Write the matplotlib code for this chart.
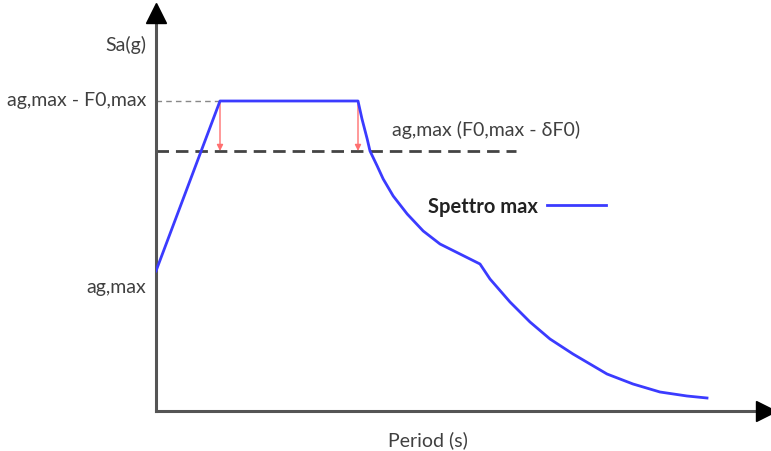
import numpy as np
import matplotlib.pyplot as plt

# Spettro di risposta elastico (schema): periodo T [s], accelerazione Sa [g]
T = [0.0, 0.16, 0.505, 0.515, 0.528, 0.535, 0.553, 0.568, 0.593, 0.628, 0.668,
     0.71, 0.76, 0.81, 0.835, 0.885, 0.935, 0.985, 1.0425, 1.1275, 1.1925,
     1.26, 1.3275, 1.3775]
Sa = [0.35, 0.775, 0.775, 0.73, 0.68, 0.65, 0.6125, 0.58, 0.5375, 0.4925, 0.45,
      0.4175, 0.3925, 0.3675, 0.33, 0.2725, 0.2225, 0.18, 0.1425, 0.0925, 0.0675,
      0.0475, 0.0375, 0.0325]

ag_max = 0.35          # ag,max
plateau = 0.775        # ag,max * F0,max
ridotto = 0.65         # ag,max (F0,max - dF0)
TB, TC = 0.16, 0.505
T_fine_ridotto = 0.9

x_max, y_max = 1.5375, 1.0175

plt.rcParams['font.family'] = ['Lato', 'DejaVu Sans']

fig = plt.figure(figsize=(7.71, 4.52), dpi=100)
ax = fig.add_axes([156 / 771, 40 / 452, 615 / 771, 407 / 452])
ax.set_xlim(0, x_max)
ax.set_ylim(0, y_max)
ax.axis('off')

# assi con frecce
asse = '#555555'
ax.plot([0, 0], [0, y_max - 0.03], color=asse, lw=2.2, clip_on=False, zorder=2)
ax.plot([0, x_max - 0.02], [0, 0], color=asse, lw=2.2, clip_on=False, zorder=2)
ax.plot(0, y_max - 0.0225, marker='^', markersize=15, color='black', clip_on=False, zorder=3)
ax.plot(x_max - 0.0125, 0, marker='>', markersize=15, color='black', clip_on=False, zorder=3)

# linee di riferimento
ax.plot([0, TB], [plateau, plateau], color='#888888', lw=1, ls=(0, (4, 3)), zorder=1)
ax.plot([0, T_fine_ridotto], [ridotto, ridotto], color='#444444', lw=2,
        ls=(0, (4.5, 2.5)), zorder=1)

# frecce di riduzione
for t in [TB, TC]:
    ax.annotate('', xy=(t, ridotto), xytext=(t, plateau),
                arrowprops=dict(arrowstyle='-|>', color='#ff7070', lw=1,
                                mutation_scale=9, shrinkA=0, shrinkB=0), zorder=4)

# spettro
ax.plot(T, Sa, color='#3b3bff', lw=2, label='Spettro max', zorder=5)

testo = '#404040'
fs = 14
fig.text(146 / 771, 1 - 45 / 452, 'Sa(g)', ha='right', va='center', fontsize=fs, color=testo)
fig.text(146 / 771, 1 - 101 / 452, 'ag,max - F0,max', ha='right', va='center',
         fontsize=fs, color=testo)
fig.text(392 / 771, 1 - 130 / 452, 'ag,max (F0,max - δF0)', ha='left', va='center',
         fontsize=fs, color=testo)
fig.text(146 / 771, 1 - 287 / 452, 'ag,max', ha='right', va='center', fontsize=fs, color=testo)
fig.text(428 / 771, 1 - 440 / 452, 'Period (s)', ha='center', va='center', fontsize=fs,
         color=testo)

leg = ax.legend(loc='center left', bbox_to_anchor=(410 / 771, 1 - 207 / 452),
                bbox_transform=fig.transFigure, frameon=False, markerfirst=False,
                handlelength=2.95, handletextpad=0.45,
                prop={'weight': 'bold', 'size': 14.5})
for txt in leg.get_texts():
    txt.set_color('#222222')

fig.savefig('out.png', dpi=100)
